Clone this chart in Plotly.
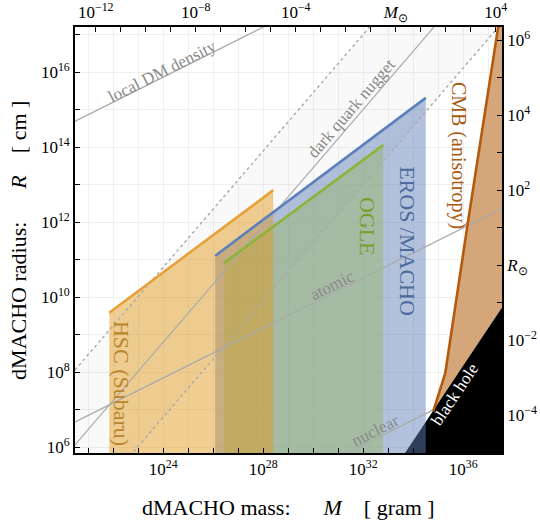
import numpy as np
import plotly.graph_objects as go

# values, stored as log10 of grams / cm
SOLAR_MASS = 1.989e33
SOLAR_RADIUS = 6.957e10

hsc_log_mass = [21.84, 28.40]
hsc_log_radius = [9.58, 12.85]

eros_log_mass = [26.08, 34.50]
eros_log_radius = [11.10, 15.31]

ogle_log_mass = [26.44, 32.80]
ogle_log_radius = [10.91, 14.05]

cmb_log_mass = [34.80, 35.28, 36.20, 37.42]
cmb_log_radius = [6.95, 7.97, 12.05, 17.30]

bh_log_mass = [33.0, 38.0]
bh_log_radius = [5.17, 10.17]

dm_log_mass = [20.0, 38.0]
dm_log_radius = [14.53, 20.53]

atomic_log_mass = [20.0, 38.0]
atomic_log_radius = [6.51, 12.51]

nuclear_log_mass = [28.0, 34.80]
nuclear_log_radius = [4.72, 6.99]

nugget_log_mass = [20.0, 38.0]
nugget_log_radius = [5.69, 19.66]
nugget_log_upper = [7.69, 21.66]
nugget_log_lower = [3.69, 17.66]

mass_ticks = list(range(21, 38))
mass_labels = [24, 28, 32, 36]
radius_ticks = list(range(6, 18))
radius_labels = [6, 8, 10, 12, 14, 16]
msun_ticks = list(range(-12, 5))
msun_labels = {-12: "10<sup>−12</sup>", -8: "10<sup>−8</sup>", -4: "10<sup>−4</sup>",
               0: "<i>M</i><sub>⊙</sub>", 4: "10<sup>4</sup>"}
rsun_ticks = list(range(-5, 7))
rsun_labels = {6: "10<sup>6</sup>", 4: "10<sup>4</sup>", 2: "10<sup>2</sup>",
               0: "<i>R</i><sub>⊙</sub>", -2: "10<sup>−2</sup>", -4: "10<sup>−4</sup>"}

x_range = [20.47, 37.55]
y_range = [5.84, 17.20]
FLOOR = 4.0

FONT = "Liberation Serif"
GRAY = "#aaaaaa"
GRAY_TEXT = "#8a8a8a"


def p10(values):
    return list(np.power(10.0, values))


def sup(e):
    return "10<sup>%s</sup>" % str(e).replace("-", "−")


fig = go.Figure()


def addFill(xs, ys, color):
    fig.add_trace(go.Scatter(x=p10(xs), y=p10(ys), mode="lines", fill="toself",
                             fillcolor=color, line=dict(width=0), hoverinfo="skip"))


def addLine(xs, ys, color, width=1.2, dash="solid"):
    fig.add_trace(go.Scatter(x=p10(xs), y=p10(ys), mode="lines",
                             line=dict(color=color, width=width, dash=dash), hoverinfo="skip"))


# light band around the dark quark nugget line
addFill(nugget_log_mass + nugget_log_mass[::-1],
        nugget_log_upper + nugget_log_lower[::-1], "rgba(0,0,0,0.025)")

# CMB anisotropy region
addFill(cmb_log_mass + [bh_log_mass[-1], bh_log_mass[-1]],
        cmb_log_radius + [cmb_log_radius[-1], bh_log_radius[-1]], "rgb(213,166,122)")

# black hole region
addFill(bh_log_mass + [bh_log_mass[-1]], bh_log_radius + [bh_log_radius[0]], "black")

# microlensing regions
for lm, lr, col in [
    (eros_log_mass, eros_log_radius, "rgba(97,130,186,0.485)"),
    (ogle_log_mass, ogle_log_radius, "rgba(153,179,103,0.48)"),
    (hsc_log_mass, hsc_log_radius, "rgba(224,151,20,0.46)"),
]:
    addFill([lm[0], lm[0], lm[1], lm[1]], [FLOOR, lr[0], lr[1], FLOOR], col)

# reference lines
addLine(dm_log_mass, dm_log_radius, GRAY)
addLine(nugget_log_mass, nugget_log_radius, GRAY)
addLine(nugget_log_mass, nugget_log_upper, GRAY, 1.4, "dot")
addLine(nugget_log_mass, nugget_log_lower, GRAY, 1.4, "dot")
addLine(atomic_log_mass, atomic_log_radius, GRAY)
addLine(nuclear_log_mass, nuclear_log_radius, GRAY)

addLine(hsc_log_mass, hsc_log_radius, "#e8a038", 2.6)
addLine(eros_log_mass, eros_log_radius, "#5b80bd", 2.6)
addLine(ogle_log_mass, ogle_log_radius, "#8cb33a", 2.6)
addLine(cmb_log_mass, cmb_log_radius, "#b35a0c", 2.6)

# dummy trace so the solar-unit axes are drawn
fig.add_trace(go.Scatter(x=[1.0], y=[1.0], xaxis="x2", yaxis="y2", mode="markers",
                         marker=dict(opacity=0), hoverinfo="skip"))

labels = [
    ("local DM density", 23.95, 16.02, -26.6, GRAY_TEXT, 17),
    ("dark quark nugget", 31.51, 15.04, -49.3, GRAY_TEXT, 17),
    ("atomic", 30.75, 10.30, -26.6, GRAY_TEXT, 17),
    ("nuclear", 32.48, 6.45, -26.6, GRAY_TEXT, 17),
    ("black hole", 35.67, 7.39, -56.3, "white", 17),
    ("HSC (Subaru)", 22.31, 7.71, 90, "#b8862e", 22),
    ("OGLE", 32.20, 11.89, 90, "#7d9c2e", 22),
    ("EROS /MACHO", 33.79, 11.49, 90, "#4d6a9c", 22),
    ("CMB (anisotropy)", 35.79, 13.79, 90, "#a85a12", 20),
]
for text, lx, ly, ang, col, size in labels:
    fig.add_annotation(x=lx, y=ly, xref="x", yref="y", text=text, textangle=ang,
                       showarrow=False, font=dict(family=FONT, size=size, color=col))

nb = "\u00a0"
fig.add_annotation(x=0.5, y=-0.129, xref="paper", yref="paper", showarrow=False,
                   xanchor="center", yanchor="middle",
                   text="dMACHO mass:" + nb * 6 + "<i>M</i>" + nb * 4 + "[" + nb + "gram" + nb + "]",
                   font=dict(family=FONT, size=22, color="black"))
fig.add_annotation(x=-0.131, y=0.498, xref="paper", yref="paper", showarrow=False,
                   xanchor="center", yanchor="middle", textangle=-90,
                   text="dMACHO radius:" + nb * 6 + "<i>R</i>" + nb * 4 + "[" + nb + "cm" + nb + "]",
                   font=dict(family=FONT, size=22, color="black"))

axis_common = dict(type="log", ticks="inside", ticklen=5, tickwidth=1.1, tickcolor="black",
                   showline=True, linecolor="black", linewidth=1.6, zeroline=False,
                   automargin=False, tickfont=dict(family=FONT, size=17, color="black"))

lm_sun = np.log10(SOLAR_MASS)
lr_sun = np.log10(SOLAR_RADIUS)

fig.update_layout(
    width=540,
    height=523,
    margin=dict(l=75, r=38, t=27, b=70),
    plot_bgcolor="white",
    paper_bgcolor="white",
    showlegend=False,
    font=dict(family=FONT, size=17, color="black"),
    xaxis=dict(axis_common, range=x_range, tickvals=p10(mass_ticks),
               ticktext=[sup(t) if t in mass_labels else "" for t in mass_ticks],
               showgrid=True, gridcolor="#f0f0f0", gridwidth=1),
    yaxis=dict(axis_common, range=y_range, tickvals=p10(radius_ticks),
               ticktext=[sup(t) if t in radius_labels else "" for t in radius_ticks],
               showgrid=True, gridcolor="#f0f0f0", gridwidth=1),
    xaxis2=dict(axis_common, overlaying="x", side="top", anchor="y",
                range=[x_range[0] - lm_sun, x_range[1] - lm_sun],
                tickvals=p10(msun_ticks), ticktext=[msun_labels.get(t, "") for t in msun_ticks],
                showgrid=False),
    yaxis2=dict(axis_common, overlaying="y", side="right", anchor="x",
                range=[y_range[0] - lr_sun, y_range[1] - lr_sun],
                tickvals=p10(rsun_ticks), ticktext=[rsun_labels.get(t, "") for t in rsun_ticks],
                showgrid=False),
)

# drop the page's default body margin so the figure sits at the window corner
fig.write_html("out.html", config={"displayModeBar": False},
               post_script="document.body.style.margin = '0';")
